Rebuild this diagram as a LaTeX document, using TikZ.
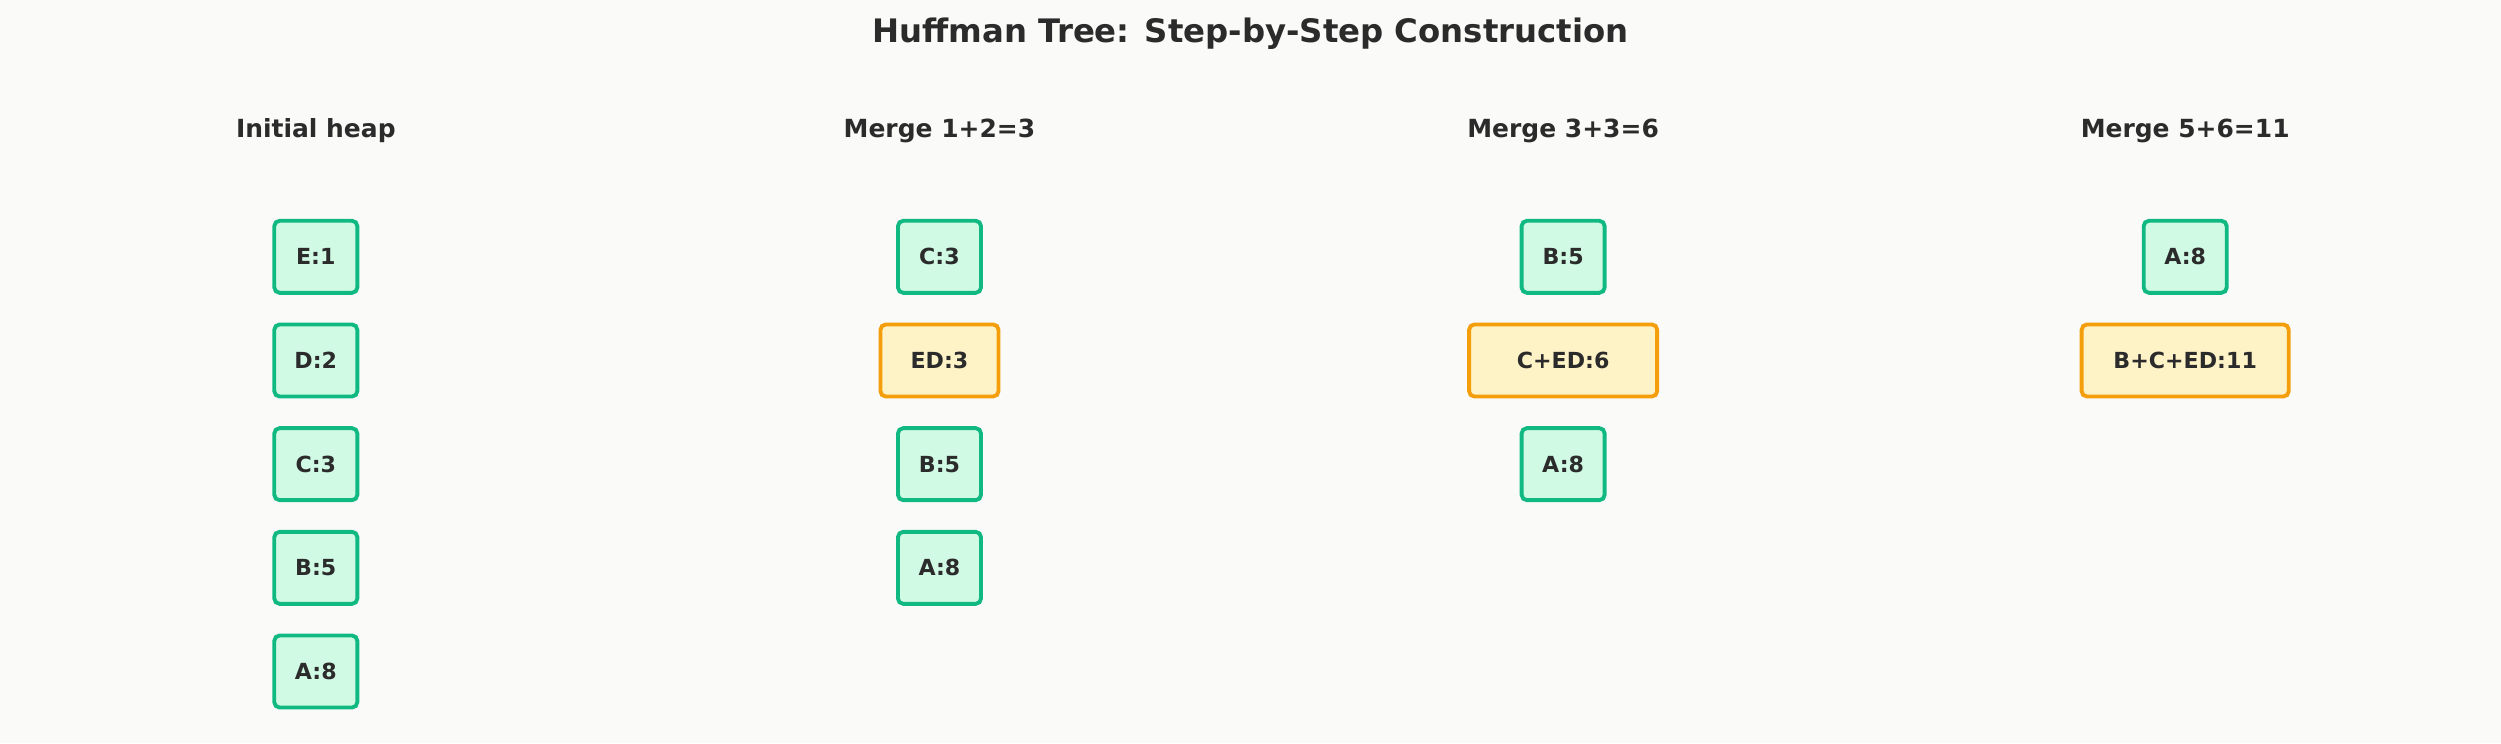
\documentclass[tikz,border=0pt]{standalone}
\usepackage{fontspec}
\setmainfont{DejaVu Sans}
\definecolor{bgcol}{HTML}{FAFAF8}
\definecolor{txtcol}{HTML}{2B2B2B}
\definecolor{leaffill}{HTML}{D1FAE5}
\definecolor{leafline}{HTML}{10B981}
\definecolor{mergefill}{HTML}{FEF3C7}
\definecolor{mergeline}{HTML}{F59E0B}
\tikzset{
  leaf/.style={draw=leafline, fill=leaffill, line width=1.1pt, rounded corners=1.5pt,
    minimum width=0.83cm, minimum height=0.72cm, inner xsep=0.1cm,
    font=\fontsize{6.3}{7}\selectfont\bfseries, text=txtcol},
  merged/.style={leaf, draw=mergeline, fill=mergefill},
  header/.style={font=\fontsize{7.1}{8}\selectfont\bfseries, text=txtcol}
}
\begin{document}
\begin{tikzpicture}[x=0.01595cm, y=-0.01595cm]
  \fill[bgcol] (0,0) rectangle (1568,466);
  \useasboundingbox (0,0) rectangle (1568,466);
  \node[font=\fontsize{9.2}{10}\selectfont\bfseries, text=txtcol] (title) at (784,21)
    {Huffman Tree: Step-by-Step Construction};
  % column headers
  \node[header] (h1) at (198,82) {Initial heap};
  \node[header] (h2) at (589,82) {Merge 1+2=3};
  \node[header] (h3) at (980,82) {Merge 3+3=6};
  \node[header] (h4) at (1370,82) {Merge 5+6=11};
  % initial heap
  \node[leaf] (e1) at (198,161) {E:1};
  \node[leaf] (d1) at (198,226) {D:2};
  \node[leaf] (c1) at (198,291) {C:3};
  \node[leaf] (b1) at (198,356) {B:5};
  \node[leaf] (a1) at (198,421) {A:8};
  % after first merge
  \node[leaf] (c2) at (589,161) {C:3};
  \node[merged, minimum width=1.18cm] (ed2) at (589,226) {ED:3};
  \node[leaf] (b2) at (589,291) {B:5};
  \node[leaf] (a2) at (589,356) {A:8};
  % after second merge
  \node[leaf] (b3) at (980,161) {B:5};
  \node[merged, minimum width=1.88cm] (ced3) at (980,226) {C+ED:6};
  \node[leaf] (a3) at (980,291) {A:8};
  % after third merge
  \node[leaf] (a4) at (1370,161) {A:8};
  \node[merged, minimum width=2.07cm] (bced4) at (1370,226) {B+C+ED:11};
\end{tikzpicture}
\end{document}
